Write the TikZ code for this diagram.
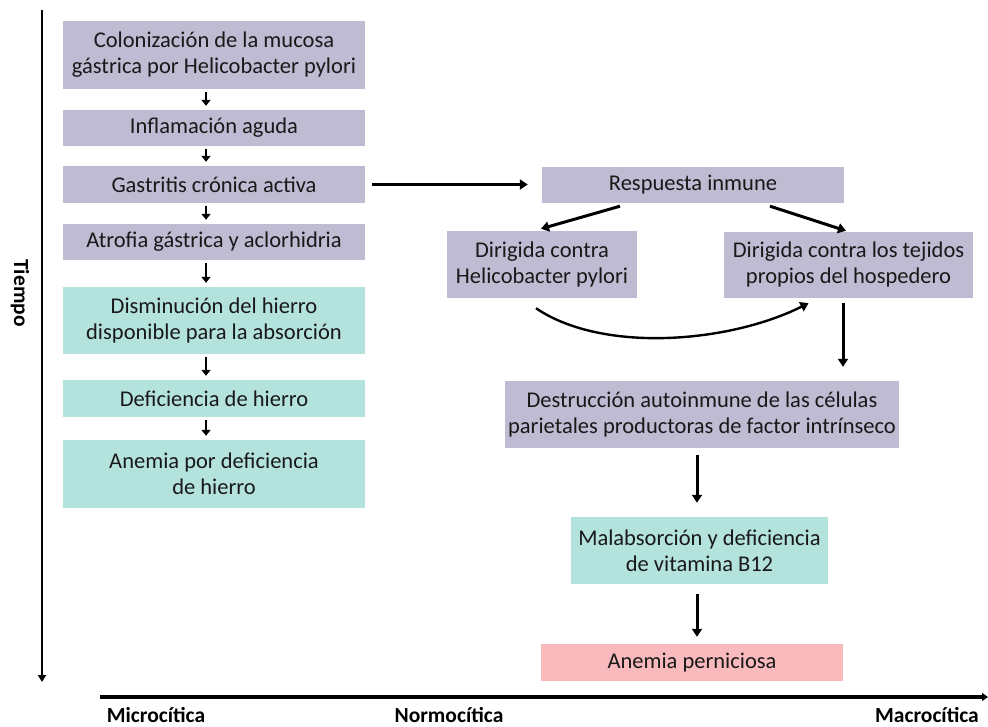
\documentclass[tikz,border=0pt]{standalone}
\usepackage{fontspec}
\setmainfont{Carlito}
\usetikzlibrary{arrows.meta,calc}
\definecolor{lav}{RGB}{190,187,210}
\definecolor{teal}{RGB}{180,227,222}
\definecolor{pinkb}{RGB}{249,186,189}
\tikzset{
  box/.style={rectangle, inner sep=2pt, align=center, font=\fontsize{22.5}{26}\selectfont, text=black!90},
  gbox/.style={box, fill=lav},
  tbox/.style={box, fill=teal},
  pbox/.style={box, fill=pinkb},
  sarr/.style={line width=2.8pt, -{Triangle[length=6pt,width=9pt]}},
  barr/.style={line width=3pt, -{Triangle[length=8pt,width=10pt]}},
  axlab/.style={font=\fontsize{21.5}{24}\selectfont\bfseries}
}
\begin{document}
\begin{tikzpicture}[x=1pt,y=-1pt]
\useasboundingbox (0,0) rectangle (988,727);
% left column
\node[gbox, minimum width=302, minimum height=68] (b1) at (214,55) {Colonización de la mucosa\\gástrica por Helicobacter pylori};
\node[gbox, minimum width=302, minimum height=36] (b2) at (214,128) {Inflamación aguda};
\node[gbox, minimum width=302, minimum height=37] (b3) at (214,184.5) {Gastritis crónica activa};
\node[gbox, minimum width=302, minimum height=36] (b4) at (214,242) {Atrofia gástrica y aclorhidria};
\node[tbox, minimum width=302, minimum height=67] (b5) at (214,320.5) {Disminución del hierro\\disponible para la absorción};
\node[tbox, minimum width=302, minimum height=37] (b6) at (214,398.5) {Deficiencia de hierro};
\node[tbox, minimum width=302, minimum height=68] (b7) at (214,474) {Anemia por deficiencia\\de hierro};
% right side
\node[gbox, minimum width=302, minimum height=36] (r1) at (693,185) {Respuesta inmune};
\node[gbox, minimum width=190, minimum height=67] (r2) at (542,264.5) {Dirigida contra\\Helicobacter pylori};
\node[gbox, minimum width=249, minimum height=66] (r3) at (848.5,265) {Dirigida contra los tejidos\\propios del hospedero};
\node[gbox, minimum width=394, minimum height=67] (r4) at (702,414.5) {Destrucción autoinmune de las células\\parietales productoras de factor intrínseco};
\node[tbox, minimum width=257, minimum height=67] (r5) at (699.5,550.5) {Malabsorción y deficiencia\\de vitamina B12};
\node[pbox, minimum width=302, minimum height=37] (r6) at (692,662.5) {Anemia perniciosa};
% small arrows left
\foreach \a/\b in {b1/b2,b2/b3,b3/b4,b4/b5,b5/b6,b6/b7}{
  \draw[sarr] ([xshift=-8pt,yshift=-3pt]\a.south) -- ([xshift=-8pt,yshift=4pt]\b.north);
}
% right arrows
\draw[barr] ([xshift=7pt]b3.east) -- ([xshift=-14pt]b3.east -| r1.west);
\draw[barr] ([xshift=-73pt,yshift=-3pt]r1.south) -- ([xshift=-1pt,yshift=2pt]r2.north);
\draw[barr] ([xshift=77pt,yshift=-3pt]r1.south) -- ([xshift=-2.5pt,yshift=1pt]r3.north);
\draw[line width=2.4pt, -{Triangle[length=8pt,width=10pt]}] ([xshift=-6pt,yshift=-10pt]r2.south) .. controls ($(r2.south)+(60,55)$) and ($(r3.south)+(-120,45)$) .. ([xshift=-40pt,yshift=-5pt]r3.south);
\draw[barr] ([xshift=-5.5pt,yshift=-5pt]r3.south) -- ([xshift=141pt,yshift=14pt]r4.north);
\draw[barr] ([xshift=-5pt,yshift=-7pt]r4.south) -- ([xshift=-2.5pt,yshift=14pt]r5.north);
\draw[barr] ([xshift=-2.5pt,yshift=-10pt]r5.south) -- ([xshift=5pt,yshift=7pt]r6.north);
% axes
\coordinate (ta) at (42,10);
\coordinate (tb) at (42,682);
\draw[line width=2.6pt, -{Triangle[length=7pt,width=8pt]}] (ta) -- (tb);
\node[axlab, rotate=-90] (tiempo) at (20,293) {Tiempo};
\coordinate (xa) at (100,697);
\coordinate (xb) at (988,697);
\draw[line width=3.2pt, -{Triangle[length=6pt,width=8pt]}] (xa) -- (xb);
\node[axlab] (micro) at (156,715.5) {Microcítica};
\node[axlab] (normo) at (449,715.5) {Normocítica};
\node[axlab] (macro) at (927,715.5) {Macrocítica};
\end{tikzpicture}
\end{document}
